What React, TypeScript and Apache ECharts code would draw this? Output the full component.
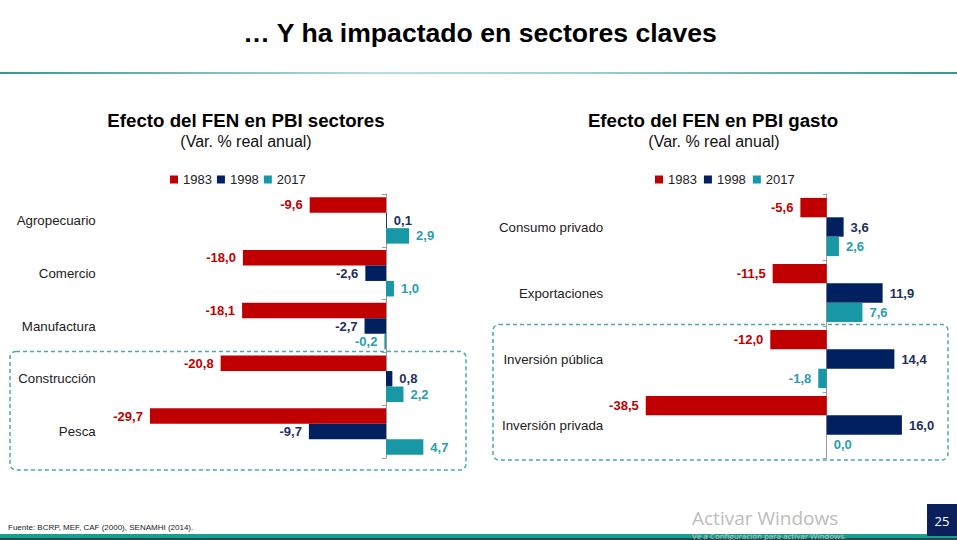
import React, { useEffect, useRef } from 'react';
import * as echarts from 'echarts';

const years = ['1983', '1998', '2017'];

const sectorCats = ['Agropecuario', 'Comercio', 'Manufactura', 'Construcción', 'Pesca'];
const sector1983 = [-9.6, -18.0, -18.1, -20.8, -29.7];
const sector1998 = [0.1, -2.6, -2.7, 0.8, -9.7];
const sector2017 = [2.9, 1.0, -0.2, 2.2, 4.7];

const gastoCats = ['Consumo privado', 'Exportaciones', 'Inversión pública', 'Inversión privada'];
const gasto1983 = [-5.6, -11.5, -12.0, -38.5];
const gasto1998 = [3.6, 11.9, 14.4, 16.0];
const gasto2017 = [2.6, 7.6, -1.8, 0.0];

const FONT = '"Liberation Sans", Arial, sans-serif';
const barColors = ['#C00000', '#002060', '#1897A5'];
const labelColors = ['#C00000', '#1F2F5F', '#2A9DAE'];

function makeSeries(idx: number, values: number[], gridIdx: number, barWidth: number) {
  return {
    type: 'bar',
    name: years[idx],
    xAxisIndex: gridIdx,
    yAxisIndex: gridIdx * 2,
    barWidth,
    barGap: '0%',
    itemStyle: { color: barColors[idx] },
    label: {
      show: true,
      distance: 7,
      color: labelColors[idx],
      fontWeight: 'bold',
      fontSize: 13,
      fontFamily: FONT,
      formatter: (p: any) => Number(p.value).toFixed(1).replace('.', ','),
    },
    data: values.map((v) => ({ value: v, label: { position: v < 0 ? 'left' : 'right' } })),
  };
}

function labelAxis(gridIndex: number, cats: string[]) {
  return {
    gridIndex,
    type: 'category',
    data: cats,
    inverse: true,
    position: 'left',
    axisLine: { show: false, onZero: false },
    axisTick: { show: false },
    axisLabel: { fontSize: 13.3, color: '#222', margin: 12, fontFamily: FONT },
  };
}

function zeroAxis(gridIndex: number, cats: string[]) {
  return {
    gridIndex,
    type: 'category',
    data: cats,
    inverse: true,
    position: 'left',
    axisLine: { show: true, onZero: true, lineStyle: { color: '#9a9a9a', width: 1 } },
    axisTick: { show: true, length: 4, lineStyle: { color: '#9a9a9a' } },
    axisLabel: { show: false },
  };
}

function txt(x: number, y: number, text: string, size: number, weight: string, color: string, align = 'center', family = FONT) {
  return {
    type: 'text',
    x,
    y,
    style: { text, fontSize: size, fontWeight: weight, fontFamily: family, fill: color, align, verticalAlign: 'middle' },
  };
}

function legend(left: number, gap: number) {
  return {
    data: years, left, top: 173, icon: 'rect', itemWidth: 8, itemHeight: 8, itemGap: gap,
    padding: 0, textStyle: { fontSize: 13, color: '#222', fontFamily: FONT }, selectedMode: false,
  };
}

export default function App() {
  const ref = useRef<HTMLDivElement>(null);
  useEffect(() => {
    document.body.style.margin = '0';
    const chart = echarts.init(ref.current!, null, { renderer: 'svg' });
    chart.setOption({
      animation: false,
      backgroundColor: '#ffffff',
      grid: [
        { left: 107.75, top: 194, width: 357.75, height: 264 },
        { left: 615.2, top: 194, width: 305.5, height: 264 },
      ],
      xAxis: [
        { gridIndex: 0, type: 'value', min: -35, max: 10, show: false },
        { gridIndex: 1, type: 'value', min: -45, max: 20, show: false },
      ],
      yAxis: [labelAxis(0, sectorCats), zeroAxis(0, sectorCats), labelAxis(1, gastoCats), zeroAxis(1, gastoCats)],
      legend: [legend(170, 5), legend(655, 7)],
      series: [
        makeSeries(0, sector1983, 0, 15.5),
        makeSeries(1, sector1998, 0, 15.5),
        makeSeries(2, sector2017, 0, 15.5),
        makeSeries(0, gasto1983, 1, 19.4),
        makeSeries(1, gasto1998, 1, 19.4),
        makeSeries(2, gasto2017, 1, 19.4),
      ],
      graphic: [
        txt(480, 33, '… Y ha impactado en sectores claves', 26.6, 'bold', '#000'),
        {
          type: 'rect',
          shape: { x: 0, y: 72, width: 957, height: 2 },
          style: {
            fill: {
              type: 'linear', x: 0, y: 0, x2: 1, y2: 0,
              colorStops: [
                { offset: 0, color: '#2f9a96' },
                { offset: 0.4, color: '#b8dedc' },
                { offset: 0.6, color: '#9ed2cf' },
                { offset: 1, color: '#2f9a96' },
              ],
            },
          },
        },
        txt(246, 120, 'Efecto del FEN en PBI sectores', 18.7, 'bold', '#000'),
        txt(246, 141, '(Var. % real anual)', 16, 'normal', '#111'),
        txt(713, 120, 'Efecto del FEN en PBI gasto', 18.7, 'bold', '#000'),
        txt(714, 141, '(Var. % real anual)', 16, 'normal', '#111'),
        {
          type: 'rect',
          shape: { x: 10, y: 351.5, width: 456, height: 118.5, r: 6 },
          style: { fill: 'none', stroke: '#4aa8b0', lineWidth: 1.5, lineDash: [4, 3] },
        },
        {
          type: 'rect',
          shape: { x: 493, y: 324.5, width: 455, height: 135.5, r: 6 },
          style: { fill: 'none', stroke: '#4aa8b0', lineWidth: 1.5, lineDash: [4, 3] },
        },
        txt(8, 527, 'Fuente: BCRP, MEF, CAF (2000), SENAMHI (2014).', 8, 'normal', '#222', 'left'),
        txt(692, 518, 'Activar Windows', 19, 'normal', '#bdbdbd', 'left', '"Open Sans", "Noto Sans", sans-serif'),
        { type: 'rect', shape: { x: 0, y: 534, width: 957, height: 4 }, style: { fill: '#17a08e' } },
        { type: 'rect', shape: { x: 0, y: 538, width: 957, height: 2 }, style: { fill: '#234a4a' } },
        txt(692, 535.5, 'Ve a Configuración para activar Windows.', 8, 'normal', '#c8c8c8', 'left', '"Open Sans", "Noto Sans", sans-serif'),
        { type: 'rect', shape: { x: 927, y: 504, width: 30, height: 32 }, style: { fill: '#0b1f5c' } },
        txt(942, 521, '25', 13, 'normal', '#ffffff', 'center', '"Open Sans", "Noto Sans", sans-serif'),
      ],
    });
    return () => chart.dispose();
  }, []);
  return <div ref={ref} style={{ width: 957, height: 540 }} />;
}
